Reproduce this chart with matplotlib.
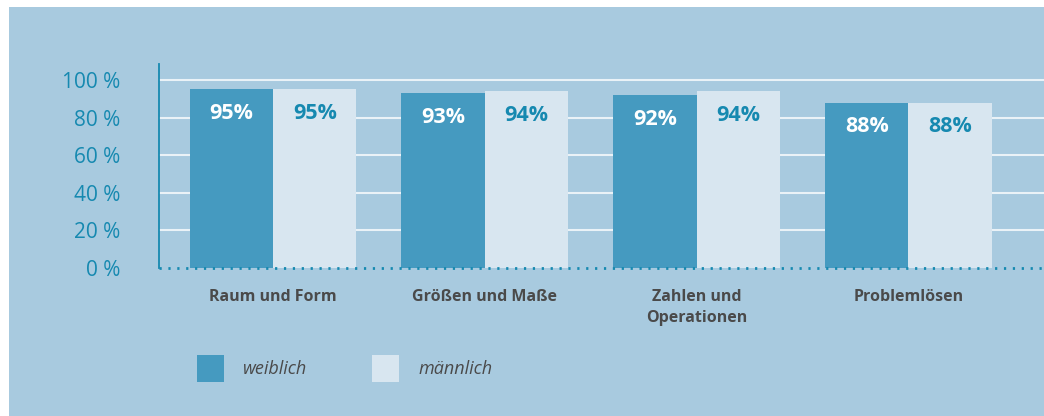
import numpy as np
import matplotlib.pyplot as plt
from matplotlib.patches import Rectangle

# data
categories = ['Raum und Form', 'Größen und Maße', 'Zahlen und\nOperationen', 'Problemlösen']
weiblich = [95, 93, 92, 88]
maennlich = [95, 94, 94, 88]
yticks = [0, 20, 40, 60, 80, 100]
series_names = ['weiblich', 'männlich']

BG = '#a8cadf'
DARK = '#459ac0'
LIGHT = '#d8e6f0'
TEAL = '#1689b0'
GREY = '#4a4a4a'
FONT = ['Open Sans', 'DejaVu Sans']

W, H = 1044, 416
fig = plt.figure(figsize=(W / 100, H / 100), dpi=100, facecolor='white')
# blue panel with small white margin top/left
fig.patches.append(Rectangle((9 / W, 0), 1 - 9 / W, 1 - 7 / H, transform=fig.transFigure,
                             facecolor=BG, edgecolor='none', zorder=-10))

ax = fig.add_axes([159 / W, 1 - 268 / H, 1 - 159 / W, 204 / H])
ax.set_zorder(1)
ax.set_facecolor('none')

x = np.arange(len(categories))
bw = 0.394
ax.bar(x - bw / 2, weiblich, bw, color=DARK, zorder=3)
ax.bar(x + bw / 2, maennlich, bw, color=LIGHT, zorder=3)

for xi, v in zip(x, weiblich):
    ax.text(xi - bw / 2, v - 13, '%d%%' % v, ha='center', va='center', color='white',
            fontsize=15.5, fontweight='bold', family=FONT, zorder=4)
for xi, v in zip(x, maennlich):
    ax.text(xi + bw / 2, v - 13, '%d%%' % v, ha='center', va='center', color=TEAL,
            fontsize=15.5, fontweight='bold', family=FONT, zorder=4)

ax.set_xlim(-0.538, 3.64)
ax.set_ylim(0, 108.5)
ax.set_yticks(yticks)
ax.set_yticklabels(['%d %%' % t for t in yticks], color=TEAL, fontsize=15, family=FONT)
ax.tick_params(axis='y', length=0, pad=28)
ax.set_xticks(x)
ax.set_xticklabels(categories, color=GREY, fontsize=11.5, fontweight='bold', family=FONT,
                   va='top', linespacing=1.4)
ax.tick_params(axis='x', length=0, pad=15)

for t in yticks[1:]:
    ax.axhline(t, color='#eaf2f7', lw=1.5, zorder=1)
ax.axhline(0, color=TEAL, lw=2, linestyle=(0, (0.8, 2.4)), zorder=5, clip_on=False)

for s in ['top', 'right', 'bottom']:
    ax.spines[s].set_visible(False)
ax.spines['left'].set_color(TEAL)
ax.spines['left'].set_linewidth(1.3)

# legend drawn by hand
for i, (name, col) in enumerate(zip(series_names, [DARK, LIGHT])):
    x0 = (197 + i * 175) / W
    fig.patches.append(Rectangle((x0, 1 - 382 / H), 27 / W, 27 / H, transform=fig.transFigure,
                                 facecolor=col, edgecolor='none'))
    fig.text(x0 + 46 / W, 1 - 369 / H, name, color=GREY, fontsize=13, style='italic',
             family=FONT, va='center', ha='left')

fig.savefig('out.png', dpi=100, facecolor='white')
